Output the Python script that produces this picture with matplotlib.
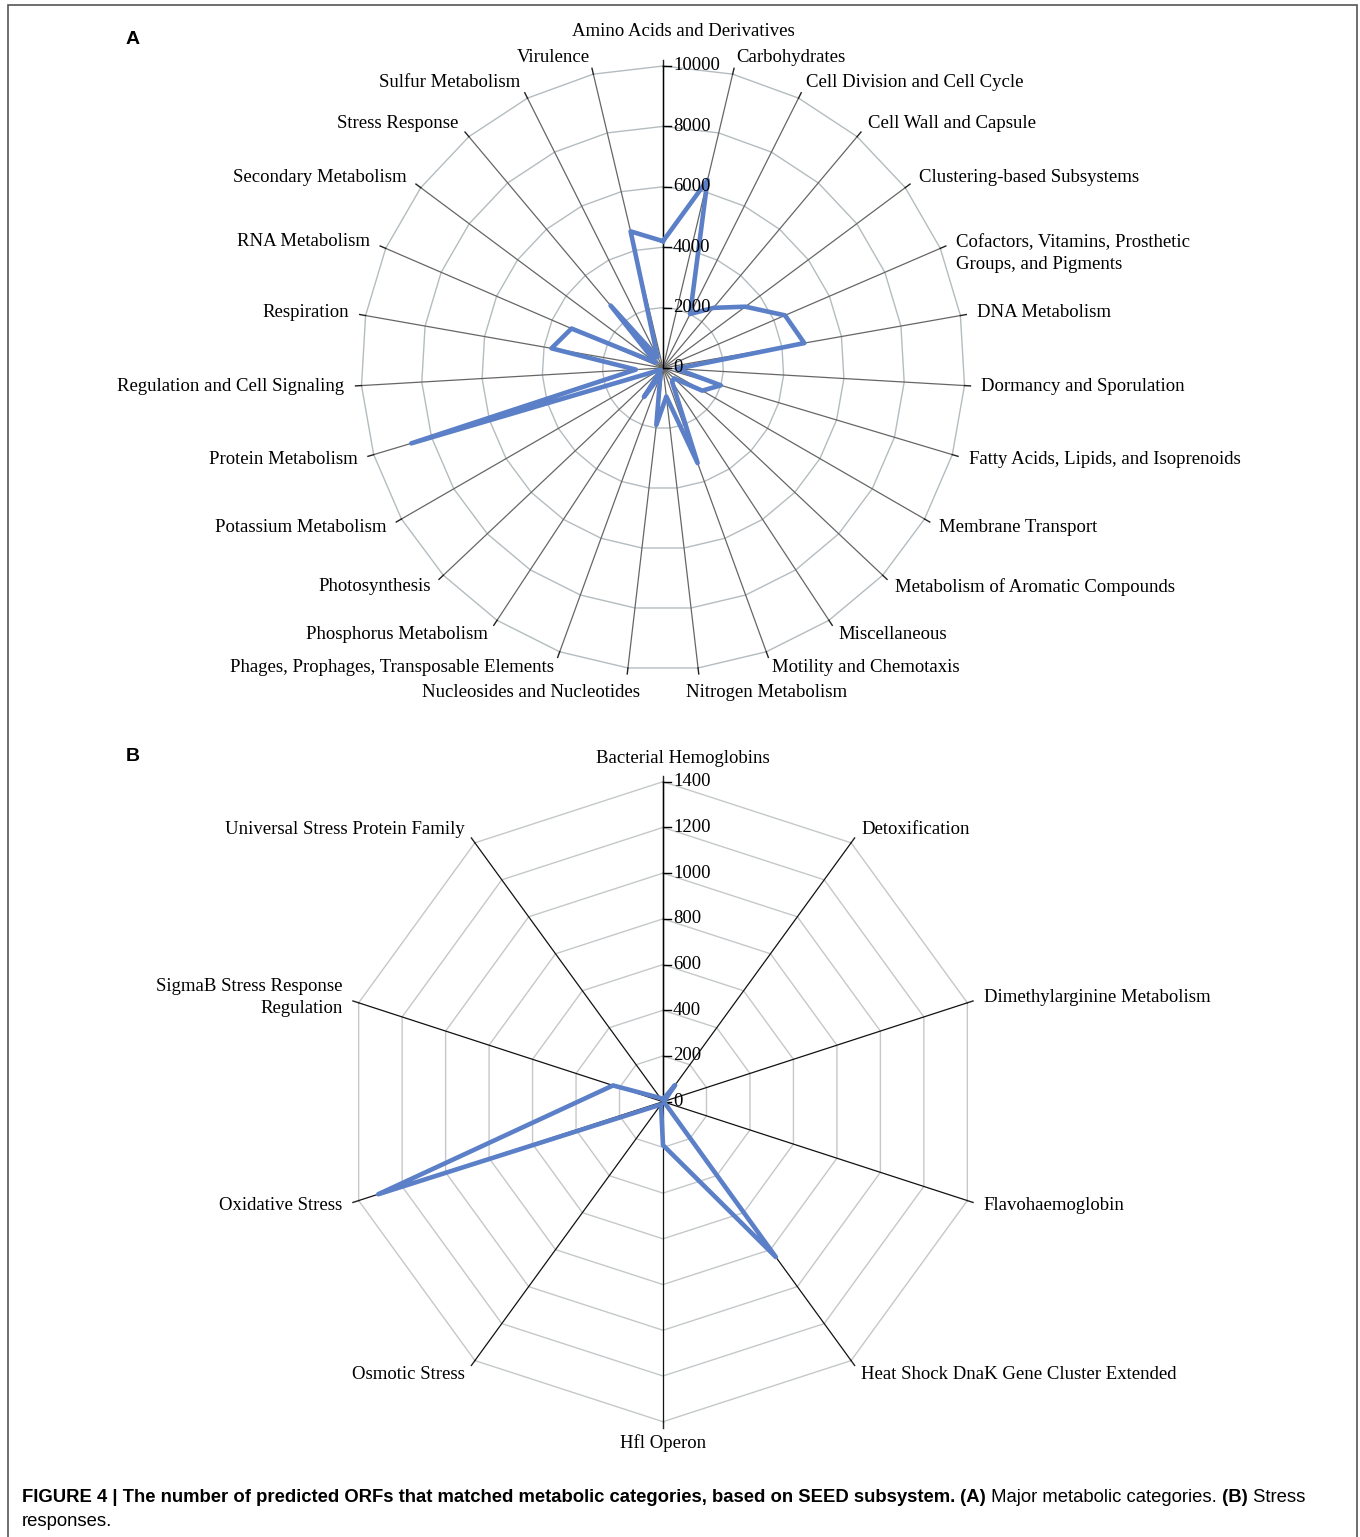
import numpy as np
import matplotlib
matplotlib.use('Agg')
import matplotlib.pyplot as plt
from matplotlib.patches import Rectangle

# ---- Panel A: major metabolic categories (clockwise from the top)
cats_a = ['Amino Acids and Derivatives', 'Carbohydrates', 'Cell Division and Cell Cycle',
          'Cell Wall and Capsule', 'Clustering-based Subsystems',
          'Cofactors, Vitamins, Prosthetic\nGroups, and Pigments', 'DNA Metabolism',
          'Dormancy and Sporulation', 'Fatty Acids, Lipids, and Isoprenoids',
          'Membrane Transport', 'Metabolism of Aromatic Compounds', 'Miscellaneous',
          'Motility and Chemotaxis', 'Nitrogen Metabolism', 'Nucleosides and Nucleotides',
          'Phages, Prophages, Transposable Elements', 'Phosphorus Metabolism',
          'Photosynthesis', 'Potassium Metabolism', 'Protein Metabolism',
          'Regulation and Cell Signaling', 'Respiration', 'RNA Metabolism',
          'Secondary Metabolism', 'Stress Response', 'Sulfur Metabolism', 'Virulence']
vals_a = [4200, 6400, 2000, 2600, 3400, 4400, 4750, 450, 2000, 1500, 500, 550, 3350,
          950, 1900, 250, 1150, 100, 150, 8700, 900, 3750, 3300, 300, 2700, 400, 4650]
ticks_a = [0, 2000, 4000, 6000, 8000, 10000]

# ---- Panel B: stress responses
cats_b = ['Bacterial Hemoglobins', 'Detoxification', 'Dimethylarginine Metabolism',
          'Flavohaemoglobin', 'Heat Shock DnaK Gene Cluster Extended', 'Hfl Operon',
          'Osmotic Stress', 'Oxidative Stress', 'SigmaB Stress Response\nRegulation',
          'Universal Stress Protein Family']
vals_b = [10, 90, 5, 5, 840, 190, 15, 1310, 230, 20]
ticks_b = [0, 200, 400, 600, 800, 1000, 1200, 1400]

W, H = 1360, 1537
fig = plt.figure(figsize=(W / 100, H / 100), dpi=100)

SERIF = 'Liberation Serif'
LINE = '#5b80c8'


def radar(top, bot, cx, cy, rmax, cats, vals, ticks, spoke_col, ring_col, top_gap):
    scale = rmax / ticks[-1]          # pixels per data unit
    ax = fig.add_axes([0, 1 - bot / H, 1, (bot - top) / H])
    ax.set_xlim(-cx / scale, (W - cx) / scale)
    ax.set_ylim(-(bot - cy) / scale, (cy - top) / scale)
    ax.axis('off')

    n = len(cats)
    ang = np.arange(n) * 2 * np.pi / n
    s, c = np.sin(ang), np.cos(ang)
    vmax = ticks[-1]
    px = 1 / scale

    # polygon grid rings
    for t in ticks[1:]:
        ax.plot(np.append(t * s, t * s[0]), np.append(t * c, t * c[0]),
                color=ring_col, lw=1.0, zorder=1)

    # spokes and outer tick marks
    for i in range(n):
        ax.plot([0, vmax * s[i]], [0, vmax * c[i]], color=spoke_col, lw=0.9, zorder=2)
        ax.plot([vmax * s[i], (vmax + 6 * px) * s[i]],
                [vmax * c[i], (vmax + 6 * px) * c[i]], color='#222222', lw=1.0, zorder=2)

    # value axis
    ax.plot([0, 0], [0, vmax], color='black', lw=1.0, zorder=4)
    for t in ticks:
        ax.plot([0, 8 * px], [t, t], color='black', lw=1.0, zorder=4)
        ax.text(10 * px, t, str(t), ha='left', va='center', fontsize=13.5,
                family=SERIF, zorder=6)

    # data polygon
    v = np.array(vals, dtype=float)
    ax.plot(np.append(v * s, v[0] * s[0]), np.append(v * c, v[0] * c[0]),
            color=LINE, lw=3.3, solid_joinstyle='round', zorder=5)

    # category labels
    for i, lab in enumerate(cats):
        dx = dy = 0
        if abs(s[i]) < 0.05:
            if c[i] > 0:
                r = vmax + top_gap * px
                dx = 20 * px
                va = 'bottom'
            else:
                r = vmax + 12 * px
                va = 'top'
            ha = 'center'
        else:
            r = vmax + 17 * px
            ha, va = ('left' if s[i] > 0 else 'right'), 'center'
            if abs(s[i]) < 0.2:
                dx = -np.sign(s[i]) * 14 * px
                dy = -8 * px
            if '\n' in lab and s[i] > 0:
                dy = -12 * px
        ax.text(r * s[i] + dx, r * c[i] + dy, lab, ha=ha, va=va, multialignment=ha,
                fontsize=13.5, family=SERIF, linespacing=1.35, zorder=6)
    return ax


radar(0, 736, 663, 368, 302, cats_a, vals_a, ticks_a, '#666666', '#b4bcc0', 26)
radar(736, 1470, 663, 1101.7, 320, cats_b, vals_b, ticks_b, '#111111', '#c4c8ca', 15)

# panel letters
fig.text(133 / W, 1 - 40 / H, 'A', fontsize=14, fontweight='bold', family='Liberation Sans',
         ha='center', va='center')
fig.text(133 / W, 1 - 756 / H, 'B', fontsize=14, fontweight='bold', family='Liberation Sans',
         ha='center', va='center')

# frame
fig.patches.append(Rectangle((8 / W, -0.01), (1357 - 8) / W, 1.01 - 5 / H, transform=fig.transFigure,
                             fill=False, edgecolor='#555555', lw=1.2))

# caption, built from bold and regular runs
runs = [('FIGURE 4 | The number of predicted ORFs that matched metabolic categories, based on SEED subsystem.', 'bold'),
        (' (A)', 'bold'), (' Major metabolic categories.', 'normal'), (' (B)', 'bold'), (' Stress', 'normal')]
fig.canvas.draw()
renderer = fig.canvas.get_renderer()
x = 22 / W
for txt, wt in runs:
    t = fig.text(x, 1 - 1497 / H, txt, fontsize=13.3, fontweight=wt, family='Liberation Sans',
                 ha='left', va='center')
    x += t.get_window_extent(renderer).width / W
fig.text(22 / W, 1 - 1522 / H, 'responses.', fontsize=13.3, family='Liberation Sans',
         ha='left', va='center')

fig.savefig('out.png', dpi=100, facecolor='white')
